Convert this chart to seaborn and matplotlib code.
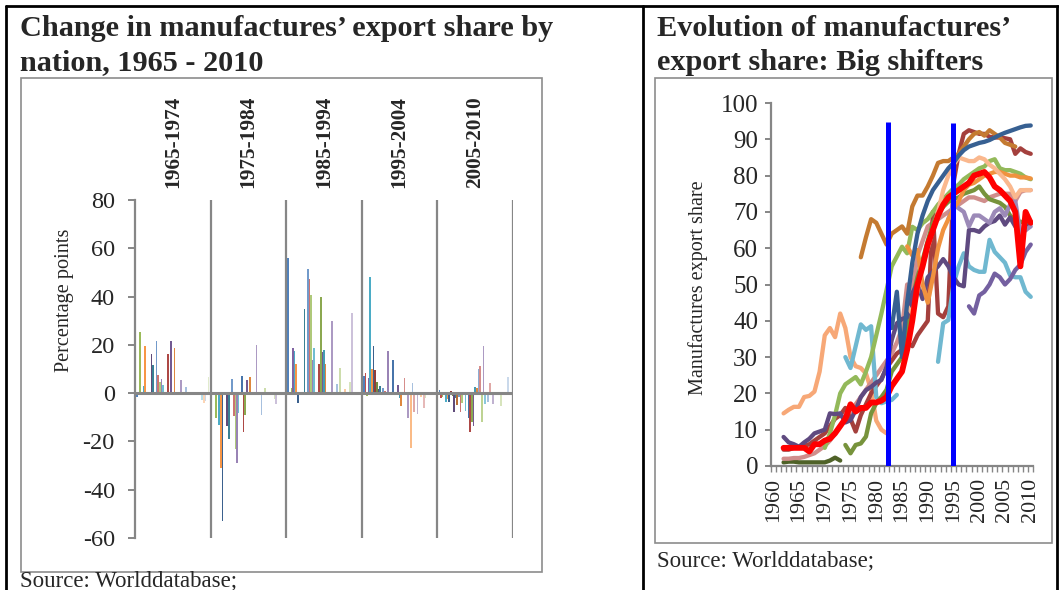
import matplotlib
matplotlib.use("Agg")
import matplotlib.pyplot as plt
import matplotlib.colors as mcolors
import matplotlib.transforms as mtransforms
from matplotlib.patches import Rectangle
from matplotlib.lines import Line2D
import numpy as np
import pandas as pd
import seaborn as sns

# ---------------- data: left panel (change in export share, 45 nations) ----------------
periods = ["1965-1974", "1975-1984", "1985-1994", "1995-2004", "2005-2010"]
chg_1965_1974 = [-1.5, 0, 25.2, 0, 2.9, 19.4, -0.5, 0, 0, 16.1,
                 11.7, 0, 21.4, 7.6, 4.5, 5.7, 3.4, 0, 0, 16.3,
                 0, 21.7, 0, 18.6, 0, 0, 0.4, 5.4, 0, 0,
                 2.5, 0, 0, 0, -0.8, 0, 0, 0, 0, 0,
                 -3.0, -4.1, -3.3, 0, 6.8]
chg_1975_1984 = [0, 0, -10.2, 0, -13.1, -31.0, -53.0, 0, 0, -13.7,
                 -19.0, 0, 5.9, -9.5, -23.2, -28.8, -8.4, 0, 7.0, -16.3,
                 -9.2, 5.4, 0, 6.6, 0, 0, 0, 20.0, 0, 0,
                 -9.1, 0, 2.3, 0, 0, 0.4, 0, 0, -2.5, -4.6,
                 0, 0, 0, 0, 0]
chg_1985_1994 = [56.0, 0, 2.3, 18.6, 17.6, 12.0, -4.0, 0, 0, 0,
                 34.9, 0, 51.3, 47.3, 40.8, 13.7, 18.6, 0, 0, 11.9,
                 39.7, 17.0, 18.0, 12.0, 0, 0, 0, 30.0, 0, 0,
                 3.6, 0, 10.6, 0, 0, 1.6, 0, 0, 4.7, 33.0,
                 0, 0, 0, 0, 0]
chg_1995_2004 = [7.0, 8.4, -1.1, 6.3, 48.0, 10.0, 19.6, 9.5, 4.5, 1.8,
                 3.0, 0.5, 2.2, 0.7, 0, 17.5, 0, 0, 13.8, 0,
                 0, 3.3, -2.2, -5.4, 0, 6.3, 0, -10.2, 0, -22.9,
                 4.1, -7.7, 0, -8.8, 0, -1.7, 0, -6.3, -1.9, 0,
                 0, 0, 0, 0, 0]
chg_2005_2010 = [1.4, -1.9, -1.7, 0, -3.7, -2.5, -3.6, 0.7, -1.1, -8.0,
                 -1.9, -5.1, -1.4, -7.9, -4.0, 0.4, -7.6, 0, -10.3, -16.0,
                 -11.9, -13.5, 2.5, 2.1, 10.0, 11.2, -12.1, 19.6, -4.7, 0,
                 -3.6, 4.1, 0, -4.7, 0, 0, 0, 0, -5.4, 0,
                 0, 0, 6.8, 0, 0]
left_yticks = [-60, -40, -20, 0, 20, 40, 60, 80]

# ---------------- data: right panel (manufactures export share) ----------------
red_start = 1962
share_red = [5, 5, 5, 5, 5, 4, 6, 6, 7, 7.5, 9, 11, 13, 17, 15, 16, 16, 17.5, 17.5, 18,
             19, 22, 24, 26, 32, 40, 50, 55, 61, 65, 69, 72, 74, 75, 76, 77, 78, 80, 80.5,
             81, 79.5, 77, 76, 74.5, 73, 70, 55, 70, 67]
darkblue_start = 1983
share_darkblue = [38, 48, 30, 45, 56, 64, 69, 73, 76, 78, 80, 82, 83.5, 85.5, 87, 88, 88.5,
                  89, 89.3, 89.8, 90.5, 91.2, 91.8, 92.3, 92.8, 93.3, 93.7, 93.8]
brown_start = 1977
share_brown = [57.5, 63, 68, 67, 64, 61, 64, 65, 66, 64, 71.5, 74.5, 74.5, 77, 80, 83.5, 84,
               84, 85, 86, 88, 90, 91.5, 92, 91, 92.5, 91.5, 90.5, 89, 88.5, 88]
darkred_start = 1962
share_darkred = [4.5, 4.5, 5, 5, 5.5, 6, 7, 8, 9, 11, 13, 14, 16, 13, 9.5, 14, 17, 20, 22, 24,
                 27, 29, 31, 32, 34, 33, 36, 38, 40, 70, 42, 41, 44, 78, 86, 91.5, 92.5, 92,
                 91.5, 91.5, 90.7, 90.5, 90.5, 90.3, 90, 86, 87.5, 86.5, 86]
pink_start = 1962
share_pink = [2, 2, 2.2, 2.2, 2.5, 3, 3.5, 4.5, 5.5, 7, 9, 11, 13, 15, 17, 19, 21, 23, 25, 27,
              29, 31, 34, 38, 50, 48, 58, 62, 66, 67, 68, 69, 70, 71, 72, 73, 74, 74, 73.5,
              73, 74, 74.5, 75, 75, 75, 73, 75.5, 76, 76]
peach_start = 1962
share_peach = [14.5, 15.5, 16.3, 16.3, 19, 19.3, 20.5, 26, 36, 38, 35.5, 42, 38, 30, 27.5,
               27, 25.5, 21, 12.5, 10, 9]
peach2_start = 1986
share_peach2 = [44, 42, 48, 55, 60, 65, 70, 76, 80, 83, 85, 84.5, 84, 84, 85, 84.5, 83, 82,
                80.5, 79, 77, 74, 76, 76, 76]
aqua_a_start = 1974
share_aqua_a = [30, 27, 33, 39, 37.5, 38.5, 19, 17.3, 17.8, 18.2, 19.6]
aqua_b_start = 1992
share_aqua_b = [28.7, 39.3, 40.2, 50, 55, 58.6, 55, 54, 53.5, 53.5, 62.3, 59, 57.5, 56, 52.5,
                52, 52, 48, 46.6]
green_start = 1970
share_green = [5, 9, 14, 20, 22.5, 23.5, 24.5, 22.5, 26, 30, 36, 42, 48.5, 55, 57.7, 60.4,
               58.6, 65.9, 65, 66.9, 68, 70, 72, 73.5, 75, 76.5, 77.5, 79, 80, 81, 82, 82.5,
               84, 84.5, 82, 81.5, 81.5, 81, 80.5, 79.5, 79]
olive_start = 1974
share_olive = [5.8, 3.5, 5.8, 6.2, 8.1, 14.5, 17.3, 19, 21, 26, 28, 30, 38, 46, 52, 56.7, 62,
               66.9, 70, 71.4, 72.8, 73.5, 74, 75, 75.5, 76, 77, 75, 73.5, 73, 72.5, 71.4, 69,
               67.5, 67.3, 67, 67.3]
darkgreen_start = 1962
share_darkgreen = [1, 1.2, 1.2, 1, 1, 1, 1, 1, 1, 1.5, 2.3, 1.5]
darkpurple_start = 1962
share_darkpurple = [8, 6.5, 6, 5.3, 6.5, 7.5, 9, 9.5, 10, 14.5, 14.3, 14.5, 12, 12.6, 15.4, 19,
                    20.9, 21.8, 23, 23.7, 27.3, 34.7, 39.3, 40.5, 41, 47.6, 50.3, 46, 52, 53.5,
                    55, 57, 55, 52, 50, 49.5, 65, 65, 64.5, 66, 67, 67.5, 69, 66.5, 68.5, 66,
                    64, 65, 67]
lavender_start = 1994
share_lavender = [68, 72, 71, 70, 66, 69, 69, 68, 67, 70, 71, 69, 72, 73, 64, 65, 66]
purple_start = 1998
share_purple = [44, 42, 47, 48, 50, 53, 52, 50, 51.5, 54, 55.5, 59, 61]
orange_start = 1986
share_orange = [60.5, 58, 59.5, 50, 45, 52, 60, 65, 68, 71, 73, 76, 77.5, 78, 79, 80, 80.5, 81,
                81, 80.5, 80, 80, 79.5, 79.5, 79.2]
break_years = [1982.3, 1995.0]
break_tops = [94.8, 94.4]

# ---------------- styling ----------------
W, H = 1059, 590
GREY = "#868686"
sns.set_theme(style="white")
plt.rcParams["font.family"] = ["Liberation Serif", "DejaVu Serif"]
plt.rcParams["axes.unicode_minus"] = False

fig = plt.figure(figsize=(W / 100, H / 100), dpi=100)


def px_rect(x0, y0, x1, y1):
    return [x0 / W, 1 - y1 / H, (x1 - x0) / W, (y1 - y0) / H]


# Excel-2007-like series palette
base = ["#4F81BD", "#C0504D", "#9BBB59", "#8064A2", "#4BACC6", "#F79646"]
tiers = [("s", 1.0), ("s", 0.75), ("t", 0.2), ("s", 0.9), ("t", 0.35), ("t", 0.5), ("t", 0.6), ("t", 0.7)]


def tier_color(c, kind, f):
    rgb = np.array(mcolors.to_rgb(c))
    if kind == "s":
        rgb = rgb * f
    else:
        rgb = rgb + (1 - rgb) * f
    return mcolors.to_hex(np.clip(rgb, 0, 1))


series_by_period = [chg_1965_1974, chg_1975_1984, chg_1985_1994, chg_1995_2004, chg_2005_2010]
n_nations = len(chg_1965_1974)
nations = [f"n{i:02d}" for i in range(n_nations)]
bar_colors = [tier_color(base[i % 6], *tiers[i // 6]) for i in range(n_nations)]

rows = []
for p, vals in zip(periods, series_by_period):
    for n, v in zip(nations, vals):
        rows.append({"period": p, "nation": n, "change": v})
bars = pd.DataFrame(rows)

# ---------------- left axes ----------------
ax1 = fig.add_axes(px_rect(135, 200, 513, 538))
sns.barplot(data=bars, x="period", y="change", hue="nation", order=periods,
            hue_order=nations, palette=bar_colors, width=0.97, errorbar=None,
            saturation=1, linewidth=0, legend=False, ax=ax1)
ax1.set_xlim(-0.5, len(periods) - 0.5)
ax1.set_ylim(left_yticks[0], left_yticks[-1])
for s in ["top", "right", "bottom"]:
    ax1.spines[s].set_visible(False)
ax1.spines["left"].set_color(GREY)
ax1.spines["left"].set_linewidth(1.6)
ax1.axhline(0, color=GREY, lw=2.2, zorder=4)
ax1.vlines([i + 0.5 for i in range(len(periods))], left_yticks[0], left_yticks[-1],
           colors=GREY, lw=1.6, zorder=4)
ax1.set_xticks([])
ax1.set_xlabel("")
ax1.set_yticks(left_yticks)
ax1.tick_params(axis="y", direction="out", length=5, width=1.4, color=GREY,
                pad=9.5, labelsize=17.5, left=True)
ax1.set_ylabel("Percentage points", fontsize=14.6)
ax1.yaxis.set_label_coords((74 - 135) / 378, (538 - 300) / 338)
trans1 = mtransforms.blended_transform_factory(ax1.transData, ax1.transAxes)
for i, p in enumerate(periods):
    ax1.text(i, 1 + 12 / 338, p, transform=trans1, rotation=90, ha="center",
             va="bottom", fontsize=15.3, fontweight="bold")

# ---------------- right axes ----------------
line_specs = [
    ("peach", peach_start, share_peach, "#F7A877"),
    ("darkgreen", darkgreen_start, share_darkgreen, "#4F6228"),
    ("pink", pink_start, share_pink, "#D08E8C"),
    ("darkred", darkred_start, share_darkred, "#A4403D"),
    ("aqua_a", aqua_a_start, share_aqua_a, "#70B8D0"),
    ("aqua_b", aqua_b_start, share_aqua_b, "#70B8D0"),
    ("olive", olive_start, share_olive, "#77933C"),
    ("green", green_start, share_green, "#93B95A"),
    ("darkpurple", darkpurple_start, share_darkpurple, "#5F4A80"),
    ("lavender", lavender_start, share_lavender, "#9C8AB8"),
    ("purple", purple_start, share_purple, "#7460A0"),
    ("orange", orange_start, share_orange, "#F0923F"),
    ("peach2", peach2_start, share_peach2, "#FAB88E"),
    ("brown", brown_start, share_brown, "#C47A31"),
    ("darkblue", darkblue_start, share_darkblue, "#376092"),
]
lrows = []
for name, start, vals, _ in line_specs:
    for k, v in enumerate(vals):
        lrows.append({"year": start + k, "share": v, "series": name})
lines = pd.DataFrame(lrows)
red_df = pd.DataFrame({"year": [red_start + k for k in range(len(share_red))],
                       "share": share_red})

ax2 = fig.add_axes(px_rect(770.7, 103, 1033.3, 466))
sns.lineplot(data=lines, x="year", y="share", hue="series",
             hue_order=[s[0] for s in line_specs],
             palette={s[0]: s[3] for s in line_specs}, estimator=None,
             linewidth=3.1, legend=False, ax=ax2,
             solid_joinstyle="round", solid_capstyle="round")
sns.lineplot(data=red_df, x="year", y="share", color="#FF0000", linewidth=4.2,
             estimator=None, legend=False, ax=ax2, solid_joinstyle="round")
ax2.vlines(break_years, 0, break_tops, colors="#0000FF", lw=3.6, zorder=6)
ax2.set_xlim(1959.5, 2010.5)
ax2.set_ylim(0, 100)
for s in ["top", "right"]:
    ax2.spines[s].set_visible(False)
for s in ["left", "bottom"]:
    ax2.spines[s].set_color(GREY)
    ax2.spines[s].set_linewidth(1.6)
ax2.set_xticks(list(range(1960, 2011, 5)))
ax2.set_xticks(np.arange(1959.5, 2011, 1.0), minor=True)
ax2.tick_params(axis="x", which="major", length=0, pad=8.6, labelsize=15.8,
                labelrotation=90)
ax2.tick_params(axis="x", which="minor", direction="out", length=4, width=1,
                color=GREY, bottom=True)
ax2.set_yticks(list(range(0, 101, 10)))
ax2.tick_params(axis="y", direction="out", length=4, width=1.4, color=GREY,
                pad=5, labelsize=18, left=True)
ax2.set_xlabel("")
ax2.set_ylabel("Manufactures export share", fontsize=14.5)
ax2.yaxis.set_label_coords((708 - 770.7) / 262.6, (466 - 288) / 363)

# ---------------- page furniture ----------------
fig.add_artist(Rectangle((20.5 / W, 1 - 572 / H), 521 / W, 494 / H,
                         transform=fig.transFigure, fill=False, ec="#8C8C8C", lw=1.2))
fig.add_artist(Rectangle((655 / W, 1 - 543 / H), 397 / W, 465 / H,
                         transform=fig.transFigure, fill=False, ec="#8C8C8C", lw=1.2))
for (x0, y0, x1, y1) in [(6, 6, 1059, 6), (6, 6, 6, 590), (643, 6, 643, 590), (1057, 6, 1057, 590)]:
    fig.add_artist(Line2D([x0 / W, x1 / W], [1 - y0 / H, 1 - y1 / H],
                          transform=fig.transFigure, color="black", lw=2))

fig.text(20 / W, 1 - 36 / H, "Change in manufactures\u2019 export share by",
         fontsize=21.8, fontweight="bold", va="baseline", ha="left")
fig.text(20 / W, 1 - 70 / H, "nation, 1965 - 2010",
         fontsize=21.8, fontweight="bold", va="baseline", ha="left")
fig.text(657 / W, 1 - 36 / H, "Evolution of manufactures\u2019",
         fontsize=21.8, fontweight="bold", va="baseline", ha="left")
fig.text(657 / W, 1 - 70 / H, "export share: Big shifters",
         fontsize=21.8, fontweight="bold", va="baseline", ha="left")
fig.text(20 / W, 1 - 586 / H, "Source: Worlddatabase;", fontsize=16.5,
         va="baseline", ha="left")
fig.text(657 / W, 1 - 566 / H, "Source: Worlddatabase;", fontsize=16.5,
         va="baseline", ha="left")

fig.savefig("out.png", dpi=100)
